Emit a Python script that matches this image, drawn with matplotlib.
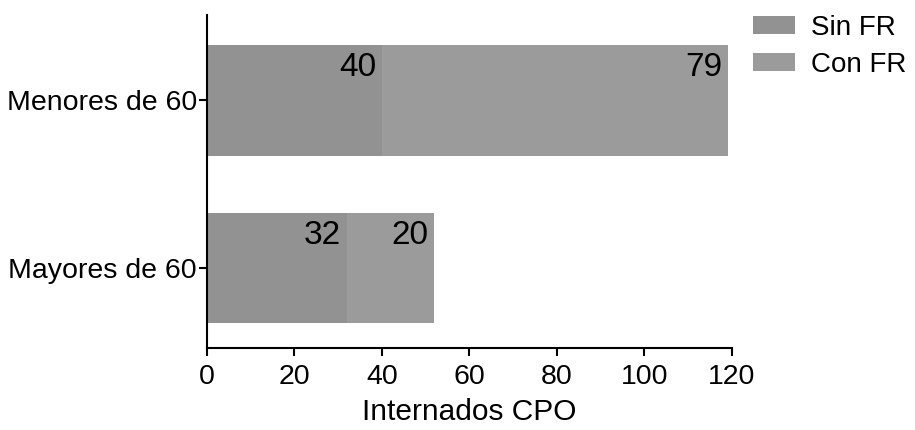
import matplotlib.pyplot as plt
import numpy as np

plt.rcParams['font.family'] = ['Liberation Sans', 'DejaVu Sans']

grupos = ["Mayores de 60", "Menores de 60"]
sin_fr = [32, 40]
con_fr = [20, 79]
xticks = [0, 20, 40, 60, 80, 100, 120]

fig = plt.figure(figsize=(9.15, 4.3), dpi=100)
ax = fig.add_axes([0.226, 0.19, 0.574, 0.775])

y = np.arange(len(grupos))
h = 0.66
b1 = ax.barh(y, sin_fr, height=h, color='#929292', label='Sin FR')
b2 = ax.barh(y, con_fr, height=h, left=sin_fr, color='#9b9b9b', label='Con FR')

for i in range(len(grupos)):
    ax.annotate(str(sin_fr[i]), (sin_fr[i], y[i] + h / 2), xytext=(-4, -5),
                textcoords='offset points', ha='right', va='top', fontsize=24)
    ax.annotate(str(con_fr[i]), (sin_fr[i] + con_fr[i], y[i] + h / 2), xytext=(-4, -5),
                textcoords='offset points', ha='right', va='top', fontsize=24)

ax.set_xlim(0, 120)
ax.set_ylim(-0.48, 1.51)
ax.set_xticks(xticks)
ax.set_yticks(y)
ax.set_yticklabels(grupos)
ax.tick_params(labelsize=20.5, width=1.5, length=6)
ax.tick_params(axis='y', pad=1)
ax.tick_params(axis='x', pad=5)
ax.set_xlabel("Internados CPO", fontsize=21.5, labelpad=6)
for s in ['top', 'right']:
    ax.spines[s].set_visible(False)
for s in ['left', 'bottom']:
    ax.spines[s].set_linewidth(1.5)

ax.legend(handles=[b1, b2], loc='upper left', bbox_to_anchor=(753 / 915, 1 - 15 / 430),
          bbox_transform=fig.transFigure, frameon=False, fontsize=20, borderpad=0,
          borderaxespad=0, handlelength=1.5, handleheight=0.6, handletextpad=0.6,
          labelspacing=0.4)

fig.savefig('out.png', dpi=100)
